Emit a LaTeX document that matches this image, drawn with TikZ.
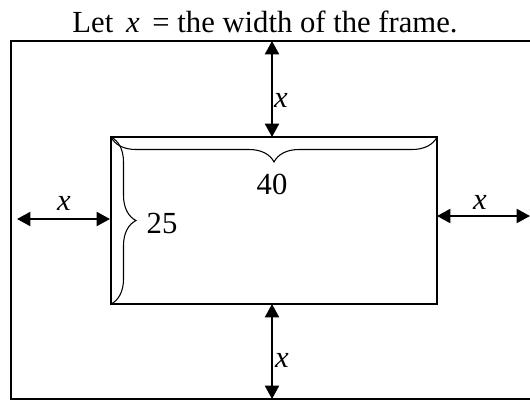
\documentclass[tikz,border=0pt]{standalone}
\usepackage{fontspec}
\setmainfont{Liberation Serif}
\usetikzlibrary{arrows.meta,decorations.pathreplacing}
\tikzset{
  frameline/.style={line width=1.5pt},
  dimarrow/.style={{Triangle[length=10pt,width=10.5pt]}-{Triangle[length=10pt,width=10.5pt]}, line width=1.5pt},
  bracket/.style={decorate, decoration={brace, amplitude=18.75pt}, line width=0.8pt},
  lbl/.style={font=\fontsize{23}{27}\selectfont, inner sep=0pt, anchor=base}
}
\begin{document}
\begin{tikzpicture}[x=0.75pt,y=-0.75pt]
  \useasboundingbox (0,0) rectangle (530,401);
  % outer frame (right side runs off the page)
  \coordinate (ftr) at (530,41);
  \coordinate (ftl) at (11,41);
  \coordinate (fbl) at (11,399);
  \coordinate (fbr) at (530,399);
  \draw[frameline] (ftr) -- (ftl) -- (fbl) -- (fbr);
  % picture
  \coordinate (ptl) at (111,137);
  \coordinate (ptr) at (437,137);
  \coordinate (pbl) at (111,304);
  \coordinate (pbr) at (437,304);
  \draw[frameline] (ptl) rectangle (pbr);
  \node[lbl] (title) at (265,32) {Let \,\textit{x}\, = the width of the frame.};
  % frame widths
  \coordinate (ftop) at (272,41);
  \coordinate (ptop) at (272,137);
  \coordinate (pbot) at (272,304);
  \coordinate (fbot) at (272,399);
  \coordinate (fleft) at (17,219);
  \coordinate (pleft) at (110,219);
  \coordinate (pright) at (437,216);
  \coordinate (fright) at (530,216);
  \draw[dimarrow] (ftop) -- (ptop);
  \draw[dimarrow] (pbot) -- (fbot);
  \draw[dimarrow] (fleft) -- (pleft);
  \draw[dimarrow] (pright) -- (fright);
  \node[lbl] (xtop) at (281,107) {\textit{x}};
  \node[lbl] (xbot) at (282,367) {\textit{x}};
  \node[lbl] (xleft) at (64,210) {\textit{x}};
  \node[lbl] (xright) at (480,209) {\textit{x}};
  % sides of the picture
  \draw[bracket] (ptr) -- (ptl);
  \draw[bracket] (ptl) -- (pbl);
  \node[lbl] (len) at (272,194) {40};
  \node[lbl] (wid) at (162,233) {25};
\end{tikzpicture}
\end{document}
